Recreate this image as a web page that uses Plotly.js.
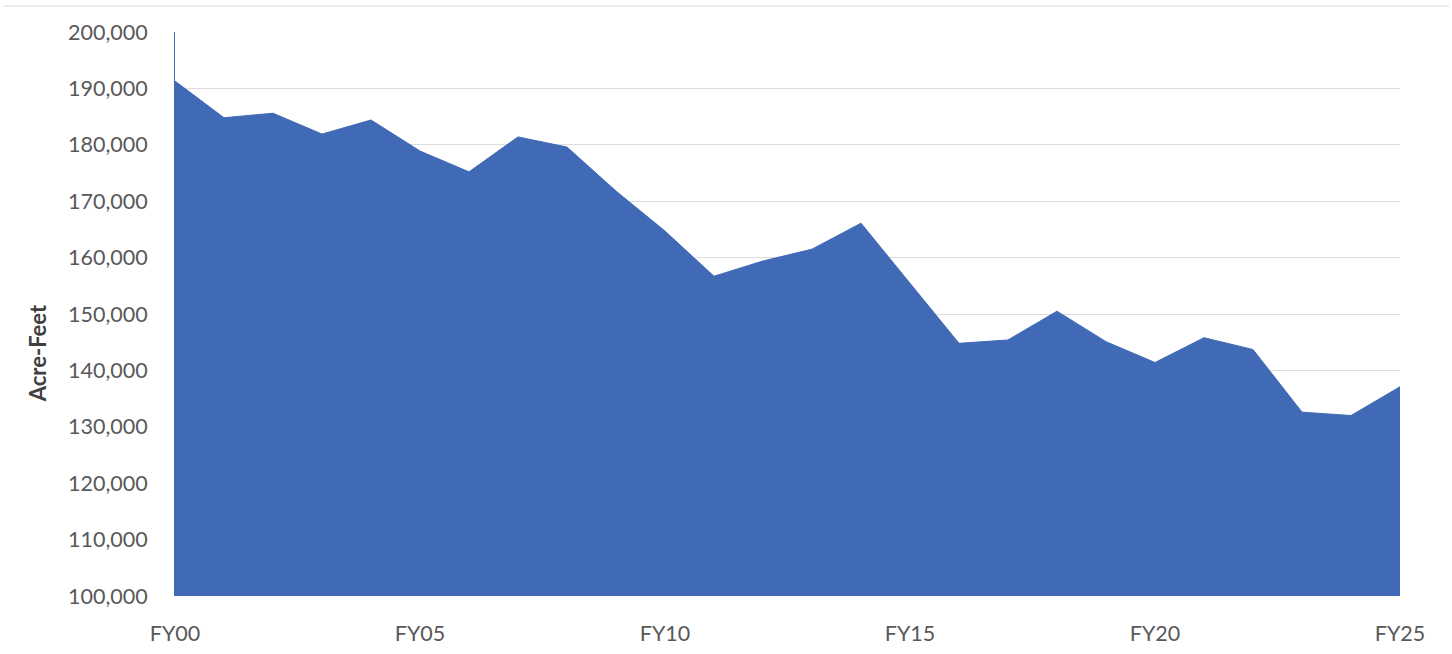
<!DOCTYPE html>
<html>
<head>
<meta charset="utf-8">
<script src="https://cdn.plot.ly/plotly-3.0.1.min.js"></script>
<style>
  html, body { margin: 0; padding: 0; background: #ffffff; }
  #chart { width: 1452px; height: 654px; }
</style>
</head>
<body>
<div id="chart"></div>
<script>
const years = ["FY00","FY01","FY02","FY03","FY04","FY05","FY06","FY07","FY08","FY09",
               "FY10","FY11","FY12","FY13","FY14","FY15","FY16","FY17","FY18","FY19",
               "FY20","FY21","FY22","FY23","FY24","FY25"];
const acreFeet = [191300, 184800, 185600, 181900, 184400, 178900, 175200, 181400, 179600, 171800,
                  164700, 156700, 159400, 161500, 166100, 155400, 144800, 145400, 150500, 145100,
                  141400, 145800, 143700, 132600, 132000, 137100];
const xTicks = ["FY00","FY05","FY10","FY15","FY20","FY25"];
const yTicks = [100000,110000,120000,130000,140000,150000,160000,170000,180000,190000,200000];
const yTitle = "Acre-Feet";

const fillColor = "#4069B6";
const font = "Lato, 'Open Sans', sans-serif";

const trace = {
  type: "scatter",
  mode: "lines",
  x: years,
  y: acreFeet,
  fill: "tozeroy",
  fillcolor: fillColor,
  line: { color: fillColor, width: 1, shape: "linear" },
  hoverinfo: "x+y"
};

const layout = {
  width: 1452,
  height: 654,
  margin: { l: 175, r: 52, t: 32, b: 58 },
  paper_bgcolor: "#ffffff",
  plot_bgcolor: "#ffffff",
  showlegend: false,
  font: { family: font, color: "#595959", size: 21 },
  xaxis: {
    type: "category",
    range: [0, 25],
    tickmode: "array",
    tickvals: xTicks,
    ticktext: xTicks,
    showgrid: false,
    zeroline: false,
    showline: false,
    ticks: "",
    ticklabelstandoff: 22,
    tickfont: { family: font, size: 21.5, color: "#595959" }
  },
  yaxis: {
    range: [100000, 200000],
    tickmode: "array",
    tickvals: yTicks,
    tickformat: ",d",
    showgrid: true,
    gridcolor: "#dcdcdc",
    gridwidth: 1,
    zeroline: false,
    showline: true,
    linecolor: fillColor,
    linewidth: 1,
    ticks: "",
    ticklabelstandoff: 22,
    tickfont: { family: font, size: 21.5, color: "#595959" }
  },
  annotations: [{
    text: "<b>" + yTitle + "</b>",
    textangle: -90,
    xref: "paper", yref: "paper",
    x: -0.112, y: 0.43,
    xanchor: "center", yanchor: "middle",
    showarrow: false,
    font: { family: font, size: 22, color: "#404040" }
  }],
  shapes: [{
    type: "line", xref: "paper", yref: "paper",
    x0: -0.14, x1: 1.04, y0: 1.046, y1: 1.046,
    line: { color: "#d9d9d9", width: 1 }
  }]
};

Plotly.newPlot("chart", [trace], layout, { displayModeBar: false, staticPlot: true });
</script>
</body>
</html>
